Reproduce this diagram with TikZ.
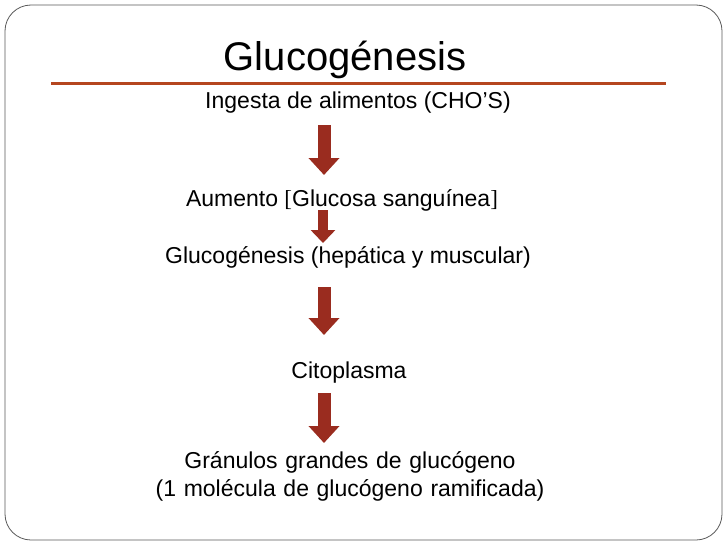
\documentclass[tikz,border=0pt]{standalone}
\usepackage{fontspec}
\setmainfont{Liberation Sans}
\newfontfamily\brk{Liberation Serif}
\usetikzlibrary{arrows.meta}
\definecolor{arr}{HTML}{9A2C1F}
\definecolor{rule}{HTML}{B5461F}
\tikzset{txt/.style={font=\fontsize{23}{28}\selectfont, inner sep=0pt, align=center},
 bigarrow/.style={arr, line width=13pt, -{Triangle[width=30pt,length=17pt]}},
 smallarrow/.style={arr, line width=10pt, -{Triangle[width=24pt,length=13pt]}}}
\begin{document}
\begin{tikzpicture}[x=1pt,y=-1pt]
\useasboundingbox (0,0) rectangle (728,546);
\draw[gray!70!black, line width=0.8pt, rounded corners=26pt] (5,5) rectangle (722,540);
\node[font=\fontsize{40}{44}\selectfont, inner sep=0pt] (title) at (345,60) {Glucogénesis};
\draw[rule, line width=3pt] (51,83) -- (666,83);
\node[txt] (t1) at (358,103) {Ingesta de alimentos (CHO’S)};
\node[txt] (t2) at (342,200) {Aumento {\brk[}Glucosa sanguínea{\brk]}};
\node[txt] (t3) at (348,257) {Glucogénesis (hepática y muscular)};
\node[txt] (t4) at (349,373) {Citoplasma};
\node[txt, text width=460pt] (t5) at (350,476) {Gránulos grandes de glucógeno\\(1 molécula de glucógeno ramificada)};
\coordinate (a1s) at (324,125); \coordinate (a1e) at (324,175);
\coordinate (a2s) at (323,210); \coordinate (a2e) at (323,243);
\coordinate (a3s) at (324,287); \coordinate (a3e) at (324,335);
\coordinate (a4s) at (324,393); \coordinate (a4e) at (324,443);
\draw[bigarrow] (a1s) -- (a1e);
\draw[smallarrow] (a2s) -- (a2e);
\draw[bigarrow] (a3s) -- (a3e);
\draw[bigarrow] (a4s) -- (a4e);
\end{tikzpicture}
\end{document}
